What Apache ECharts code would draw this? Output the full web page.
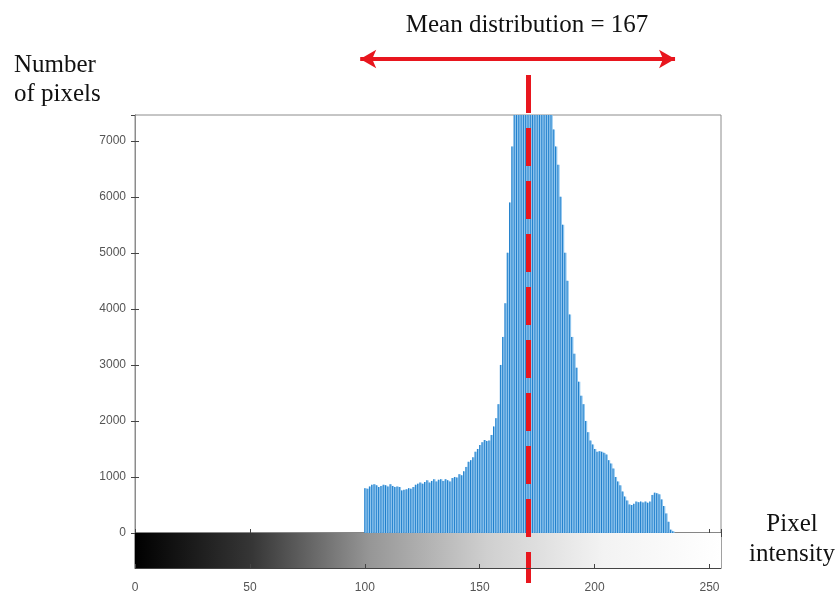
<!DOCTYPE html>
<html>
<head>
<meta charset="utf-8">
<script src="https://cdn.jsdelivr.net/npm/echarts@6/dist/echarts.min.js"></script>
<style>html,body{margin:0;background:#fff}#ChartMain{width:840px;height:598px}</style>
</head>
<body>
<div id="ChartMain"></div>
<script>
// 灰度直方图：从灰度100开始，每一级的像素数
var startLevel = 100;
var pixelCounts = [
    800, 790, 830, 860, 870, 850, 820, 840, 860, 850,
    830, 870, 840, 820, 830, 820, 760, 770, 780, 800,
    790, 820, 860, 880, 900, 880, 910, 940, 900, 930,
    960, 920, 950, 960, 930, 960, 940, 920, 980, 1000,
    990, 1050, 1030, 1100, 1180, 1270, 1300, 1350, 1450, 1500,
    1570, 1620, 1660, 1640, 1650, 1750, 1900, 2050, 2300, 3000,
    3500, 4100, 5000, 5900, 6900, 7700, 8400, 9100, 9800, 10400,
    10900, 11300, 11500, 11400, 11100, 10700, 10100, 9500, 8900, 8300,
    7900, 7600, 7200, 6900, 6570, 6000, 5500, 5000, 4500, 3900,
    3500, 3200, 2950, 2700, 2450, 2300, 2000, 1800, 1650, 1580,
    1500, 1450, 1460, 1450, 1430, 1400, 1300, 1240, 1150, 1000,
    920, 850, 740, 650, 580, 510, 500, 520, 560, 550,
    560, 545, 560, 540, 560, 680, 720, 710, 690, 600,
    480, 350, 200, 60, 30
];
var grayRange = [0, 255];      // 灰度条范围
var xTickStep = 50;
var yTickStep = 1000;
var yMax = 7460;
var meanLevel = 171;           // 红色虚线位置
var spreadRange = [98, 235];   // 双向箭头范围
var meanText = 'Mean distribution = 167';

var histData = pixelCounts.map(function (v, i) { return [startLevel + i, v]; });

var L = 135, R = 119;
var axisGray = '#8c8c8c';
function tick() { return { show: true, inside: true, length: 4, lineStyle: { color: '#444', width: 1 } }; }
function labels(extra) {
    return Object.assign({ color: '#555', fontSize: 12, fontFamily: 'Liberation Sans', showMaxLabel: false,
        formatter: function (v) { return String(v); } }, extra);
}

function GenerateChart() {
    var chart = echarts.init(document.getElementById('ChartMain'));
    var option = {
        animation: false,
        grid: [
            { left: L, right: R, top: 115, height: 418, show: true, borderColor: axisGray, borderWidth: 1 },
            { left: L, right: R, top: 533, height: 35, show: true, borderColor: '#444', borderWidth: 1 },
            { left: L, right: R, top: 59, height: 524 }
        ],
        xAxis: [
            { gridIndex: 0, type: 'value', min: grayRange[0], max: grayRange[1], interval: xTickStep,
              axisLine: { show: true, lineStyle: { color: '#444' } }, axisLabel: { show: false }, splitLine: { show: false },
              axisTick: tick() },
            { gridIndex: 0, type: 'value', position: 'top', min: grayRange[0], max: grayRange[1], interval: xTickStep,
              axisLine: { show: true, lineStyle: { color: axisGray } }, axisLabel: { show: false }, splitLine: { show: false },
              axisTick: tick() },
            { gridIndex: 1, type: 'value', min: grayRange[0], max: grayRange[1], interval: xTickStep, z: 5,
              axisLine: { show: true, lineStyle: { color: '#444' } }, splitLine: { show: false },
              axisLabel: labels({ margin: 14 }),
              axisTick: tick() },
            { gridIndex: 2, type: 'value', min: grayRange[0], max: grayRange[1], show: false }
        ],
        yAxis: [
            { gridIndex: 0, type: 'value', position: 'left', min: 0, max: yMax, interval: yTickStep,
              axisLine: { show: true, lineStyle: { color: axisGray } }, splitLine: { show: false },
              axisLabel: labels({ margin: 9 }),
              axisTick: tick() },
            { gridIndex: 0, type: 'value', position: 'right', min: 0, max: yMax, interval: yTickStep,
              axisLine: { show: true, lineStyle: { color: axisGray } }, splitLine: { show: false }, axisLabel: { show: false },
              axisTick: tick() },
            { gridIndex: 1, type: 'value', min: 0, max: 1, show: false },
            { gridIndex: 2, type: 'value', min: 0, max: 1, show: false }
        ],
        series: [
            {
                // 浅色底
                type: 'bar', xAxisIndex: 0, yAxisIndex: 0,
                data: histData, barWidth: 2.3, clip: true, barGap: '-100%',
                itemStyle: { color: '#8fc5ee' }
            },
            {
                // 深色茎线
                type: 'bar', xAxisIndex: 0, yAxisIndex: 0,
                data: histData, barWidth: 1, clip: true, barGap: '-100%',
                itemStyle: { color: '#1f7fcc' }
            },
            {
                // 灰度条
                type: 'custom', xAxisIndex: 2, yAxisIndex: 2, z: 1,
                data: [grayRange],
                encode: { x: [0, 1] },
                renderItem: function (params, api) {
                    var p0 = api.coord([api.value(0), 0]);
                    var p1 = api.coord([api.value(1), 1]);
                    return {
                        type: 'rect',
                        shape: { x: p0[0], y: p1[1], width: p1[0] - p0[0], height: p0[1] - p1[1] },
                        style: {
                            fill: new echarts.graphic.LinearGradient(0, 0, 1, 0, [
                                { offset: 0, color: '#000' }, { offset: 0.2, color: '#363636' },
                                { offset: 0.4, color: '#969696' }, { offset: 0.6, color: '#cfcfcf' },
                                { offset: 0.8, color: '#f3f3f3' }, { offset: 1, color: '#fff' }
                            ])
                        }
                    };
                }
            },
            {
                type: 'line', xAxisIndex: 3, yAxisIndex: 3, data: [], z: 10,
                markLine: {
                    silent: true, animation: false,
                    label: { show: false },
                    symbol: ['none', 'none'],
                    data: [
                        [
                            { coord: [meanLevel, 0.9695], lineStyle: { color: '#e8161e', width: 5, type: [38, 15] } },
                            { coord: [meanLevel, 0] }
                        ],
                        [
                            { coord: [spreadRange[0], 1], symbol: 'arrow', symbolSize: [14, 16],
                              lineStyle: { color: '#e8161e', width: 4, type: 'solid' } },
                            { coord: [spreadRange[1], 1], symbol: 'arrow', symbolSize: [14, 16] }
                        ]
                    ]
                }
            }
        ],
        graphic: [
            { type: 'text', x: 527, y: 25, style: { text: meanText, font: '25px "Liberation Serif"', fill: '#111', textAlign: 'center', textVerticalAlign: 'middle' } },
            { type: 'text', x: 14, y: 51, style: { text: 'Number\nof pixels', font: '25px "Liberation Serif"', lineHeight: 29, fill: '#111', textAlign: 'left', textVerticalAlign: 'top' } },
            { type: 'text', x: 792, y: 509, style: { text: 'Pixel\nintensity', font: '25px "Liberation Serif"', lineHeight: 30, fill: '#111', textAlign: 'center', textVerticalAlign: 'top' } }
        ]
    };
    chart.setOption(option);
}
GenerateChart();
</script>
</body>
</html>
